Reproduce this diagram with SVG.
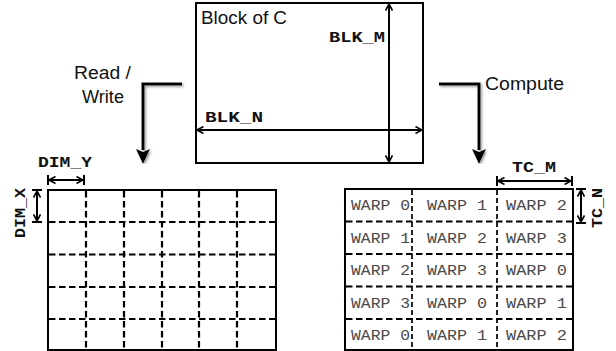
<svg xmlns="http://www.w3.org/2000/svg" width="616" height="351" viewBox="0 0 616 351">
<style>
.sans{font-family:"Liberation Sans",Arial,sans-serif;font-size:17.5px;fill:#111}
.lbl{font-family:"Liberation Mono","Courier New",monospace;font-weight:bold;font-size:15px;fill:#111}
.warp{font-family:"Liberation Mono","Courier New",monospace;font-size:14px;fill:#4a4a4a}
.solid{fill:none;stroke:#000;stroke-width:2}
.dash{fill:none;stroke:#000;stroke-width:2.2;stroke-dasharray:6.5 3.5}
.dashthin{fill:none;stroke:#000;stroke-width:1.7;stroke-dasharray:5 3}
.dim{fill:none;stroke:#000;stroke-width:2;marker-start:url(#open);marker-end:url(#open)}
.tick{stroke:#000;stroke-width:2}
.flow{fill:none;stroke:#000;stroke-width:3;marker-end:url(#head);filter:url(#sh)}
</style>
<defs>
<marker id="open" markerUnits="userSpaceOnUse" viewBox="0 0 8 8" refX="7.5" refY="4" markerWidth="8" markerHeight="8" orient="auto-start-reverse">
<path d="M1,0.5 L7.5,4 L1,7.5" fill="none" stroke="#000" stroke-width="1.6"/>
</marker>
<marker id="head" markerUnits="userSpaceOnUse" viewBox="0 0 15 14" refX="1" refY="7" markerWidth="15" markerHeight="14" orient="auto">
<path d="M0,0 L15,7 L0,14 L3,7 z" fill="#000"/>
</marker>
<filter id="sh" x="-20%" y="-20%" width="140%" height="140%">
<feDropShadow dx="1.5" dy="1.5" stdDeviation="1.2" flood-color="#777" flood-opacity="0.7"/>
</filter>
</defs>

<g id="block-c">
<rect class="solid" x="196" y="3" width="227" height="160"/>
<text class="sans" x="201" y="24" textLength="86" lengthAdjust="spacingAndGlyphs">Block of C</text>
<line class="dim" x1="389" y1="4" x2="389" y2="162"/>
<text class="lbl" x="329" y="42" textLength="56" lengthAdjust="spacingAndGlyphs">BLK_M</text>
<line class="dim" x1="197" y1="130" x2="422" y2="130"/>
<text class="lbl" x="205" y="122" textLength="58" lengthAdjust="spacingAndGlyphs">BLK_N</text>
</g>

<g id="connectors">
<path class="flow" d="M182,84 H143 V150"/>
<path class="flow" d="M439,84 H479 V150"/>
</g>

<g id="read-write-label">
<text class="sans" x="74" y="79" textLength="57" lengthAdjust="spacingAndGlyphs">Read /</text>
<text class="sans" x="82" y="103" textLength="42" lengthAdjust="spacingAndGlyphs">Write</text>
</g>

<g id="compute-label">
<text class="sans" x="485" y="90" textLength="79" lengthAdjust="spacingAndGlyphs">Compute</text>
</g>

<g id="left-grid">
<rect class="solid" x="48" y="190" width="228" height="160"/>
<path class="dash" d="M86,191 V349 M124,191 V349 M162,191 V349 M199,191 V349 M237,191 V349"/>
<path class="dash" d="M49,222 H275 M49,254.5 H275 M49,287 H275 M49,319 H275"/>
<line class="dim" x1="49" y1="180" x2="83" y2="180"/>
<line class="tick" x1="48" y1="175" x2="48" y2="185"/>
<line class="tick" x1="84" y1="175" x2="84" y2="185"/>
<text class="lbl" x="38" y="167" textLength="54" lengthAdjust="spacingAndGlyphs">DIM_Y</text>
<line class="dim" x1="37" y1="191" x2="37" y2="221"/>
<line class="tick" x1="32" y1="190" x2="42" y2="190"/>
<line class="tick" x1="32" y1="222" x2="42" y2="222"/>
<text class="lbl" transform="translate(25,238) rotate(-90)" x="0" y="0" textLength="50" lengthAdjust="spacingAndGlyphs">DIM_X</text>
</g>

<g id="right-grid">
<rect class="solid" x="345" y="189" width="228" height="161"/>
<path class="dashthin" d="M412,190 V349 M497,190 V349"/>
<path class="dash" d="M346,221.5 H572 M346,254 H572 M346,286.5 H572 M346,319 H572"/>
<g class="warp">
<text x="351" y="210" textLength="59" lengthAdjust="spacingAndGlyphs">WARP 0</text>
<text x="427" y="210" textLength="60" lengthAdjust="spacingAndGlyphs">WARP 1</text>
<text x="506" y="210" textLength="61" lengthAdjust="spacingAndGlyphs">WARP 2</text>
<text x="351" y="242.5" textLength="59" lengthAdjust="spacingAndGlyphs">WARP 1</text>
<text x="427" y="242.5" textLength="60" lengthAdjust="spacingAndGlyphs">WARP 2</text>
<text x="506" y="242.5" textLength="61" lengthAdjust="spacingAndGlyphs">WARP 3</text>
<text x="351" y="275" textLength="59" lengthAdjust="spacingAndGlyphs">WARP 2</text>
<text x="427" y="275" textLength="60" lengthAdjust="spacingAndGlyphs">WARP 3</text>
<text x="506" y="275" textLength="61" lengthAdjust="spacingAndGlyphs">WARP 0</text>
<text x="351" y="307.5" textLength="59" lengthAdjust="spacingAndGlyphs">WARP 3</text>
<text x="427" y="307.5" textLength="60" lengthAdjust="spacingAndGlyphs">WARP 0</text>
<text x="506" y="307.5" textLength="61" lengthAdjust="spacingAndGlyphs">WARP 1</text>
<text x="351" y="340" textLength="59" lengthAdjust="spacingAndGlyphs">WARP 0</text>
<text x="427" y="340" textLength="60" lengthAdjust="spacingAndGlyphs">WARP 1</text>
<text x="506" y="340" textLength="61" lengthAdjust="spacingAndGlyphs">WARP 2</text>
</g>
<line class="dim" x1="498" y1="181" x2="571" y2="181"/>
<line class="tick" x1="497" y1="176" x2="497" y2="186"/>
<line class="tick" x1="572" y1="176" x2="572" y2="186"/>
<text class="lbl" x="512" y="172" textLength="44" lengthAdjust="spacingAndGlyphs">TC_M</text>
<line class="dim" x1="581" y1="190" x2="581" y2="222"/>
<line class="tick" x1="576" y1="189" x2="586" y2="189"/>
<line class="tick" x1="576" y1="223" x2="586" y2="223"/>
<text class="lbl" transform="translate(602,228) rotate(-90)" x="0" y="0" textLength="40" lengthAdjust="spacingAndGlyphs">TC_N</text>
</g>
</svg>
